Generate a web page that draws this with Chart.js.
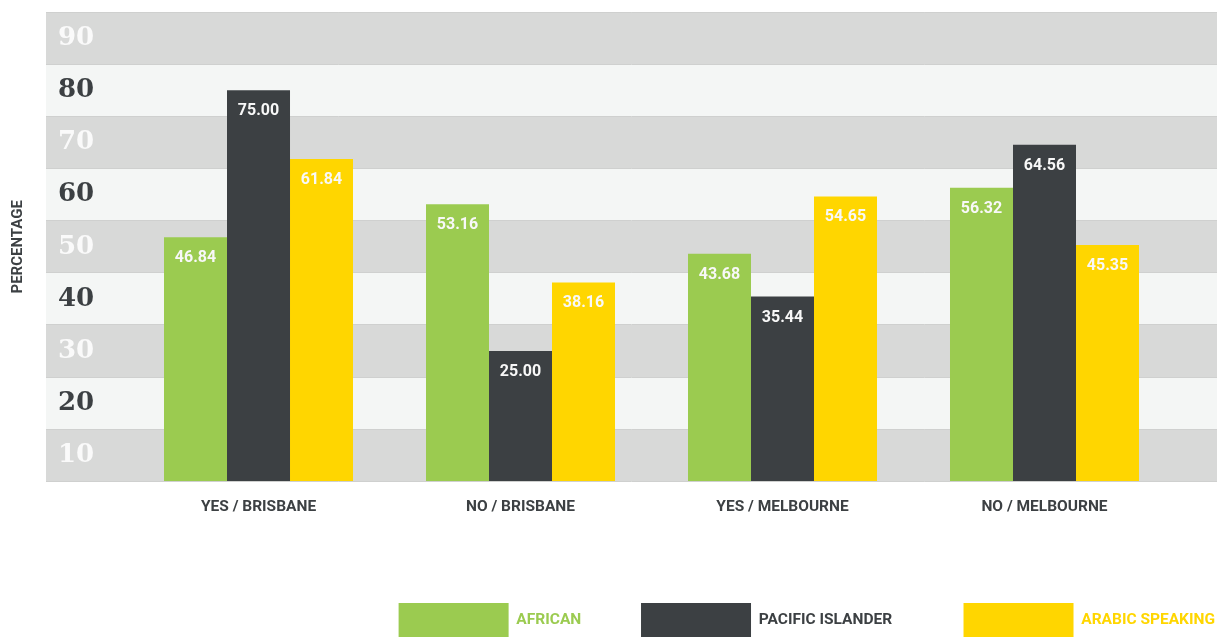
<!DOCTYPE html>
<html>
<head>
<meta charset="utf-8">
<script src="https://cdn.jsdelivr.net/npm/chart.js@4.4.1/dist/chart.umd.min.js"></script>
<style>
  html, body { margin: 0; padding: 0; background: #ffffff; }
  #wrap { width: 1227px; height: 637px; }
</style>
</head>
<body>
<div id="wrap"><canvas id="surveyChart"></canvas></div>
<script>
// chart data
const categories = ['YES / BRISBANE', 'NO / BRISBANE', 'YES / MELBOURNE', 'NO / MELBOURNE'];
const seriesNames = ['AFRICAN', 'PACIFIC ISLANDER', 'ARABIC SPEAKING'];
const africanValues = [46.84, 53.16, 43.68, 56.32];
const pacificValues = [75.00, 25.00, 35.44, 64.56];
const arabicValues = [61.84, 38.16, 54.65, 45.35];
const yTickValues = [0, 10, 20, 30, 40, 50, 60, 70, 80, 90];

const GREEN = '#9bcb50';
const DARK = '#3c4043';
const YELLOW = '#ffd600';
const SANS = 'Roboto, "Liberation Sans", sans-serif';

// spaces used to widen the legend gaps
const legendGaps = ['               ', '                  ', ''];

function toPoints(values) {
    return values.map((v, i) => ({ x: i, y: v }));
}

// alternating grey bands behind the plot
const bandPlugin = {
    id: 'bands',
    beforeDraw(chart) {
        const { ctx, chartArea } = chart;
        const y = chart.scales.y;
        ctx.save();
        for (let i = 0; i < yTickValues.length - 1; i++) {
            const top = y.getPixelForValue(yTickValues[i + 1]);
            const bottom = y.getPixelForValue(yTickValues[i]);
            ctx.fillStyle = i % 2 === 0 ? '#d8d9d8' : '#f4f6f5';
            ctx.fillRect(chartArea.left, top, chartArea.right - chartArea.left, bottom - top);
        }
        ctx.restore();
    }
};

// value labels inside the top of each bar
const valueLabelPlugin = {
    id: 'valueLabels',
    afterDatasetsDraw(chart) {
        const ctx = chart.ctx;
        ctx.save();
        ctx.font = 'bold 16px ' + SANS;
        ctx.fillStyle = '#f8f8f8';
        ctx.textAlign = 'center';
        ctx.textBaseline = 'middle';
        chart.data.datasets.forEach((ds, di) => {
            chart.getDatasetMeta(di).data.forEach((bar, i) => {
                ctx.fillText(ds.data[i].y.toFixed(2), bar.x, bar.y + 21);
            });
        });
        ctx.restore();
    }
};

const ctx = document.getElementById('surveyChart').getContext('2d');
new Chart(ctx, {
    type: 'bar',
    data: {
        datasets: [{
            label: seriesNames[0],
            data: toPoints(africanValues),
            backgroundColor: GREEN
        }, {
            label: seriesNames[1],
            data: toPoints(pacificValues),
            backgroundColor: DARK
        }, {
            label: seriesNames[2],
            data: toPoints(arabicValues),
            backgroundColor: YELLOW
        }]
    },
    options: {
        responsive: true,
        maintainAspectRatio: false,
        animation: false,
        barPercentage: 1,
        categoryPercentage: 0.7214,
        layout: {
            padding: { top: 4, left: 0, right: 10, bottom: -10 }
        },
        plugins: {
            tooltip: { enabled: false },
            legend: {
                display: true,
                position: 'bottom',
                align: 'end',
                labels: {
                    boxWidth: 110,
                    boxHeight: 34,
                    padding: 2,
                    font: { family: SANS, size: 15.5, weight: 'bold' },
                    generateLabels: function (chart) {
                        const colors = [GREEN, DARK, YELLOW];
                        return chart.data.datasets.map((ds, i) => ({
                            text: ds.label + legendGaps[i],
                            fillStyle: ds.backgroundColor,
                            strokeStyle: ds.backgroundColor,
                            lineWidth: 0,
                            fontColor: colors[i],
                            hidden: false,
                            datasetIndex: i
                        }));
                    }
                }
            }
        },
        scales: {
            x: {
                type: 'linear',
                offset: false,
                min: -0.8111,
                max: 3.6584,
                grid: { display: false, offset: false },
                border: { display: false },
                afterBuildTicks: function (scale) {
                    scale.ticks = categories.map((c, i) => ({ value: i }));
                },
                ticks: {
                    padding: 8,
                    color: DARK,
                    font: { family: SANS, size: 15.5, weight: 'bold' },
                    callback: function (value) {
                        return categories[value] || '';
                    }
                },
                title: {
                    display: true,
                    text: '',
                    font: { size: 10, lineHeight: 1 },
                    padding: { top: 0, bottom: 67 }
                }
            },
            y: {
                min: 0,
                max: 90,
                grid: { color: '#cfd0cf', lineWidth: 1, drawTicks: false },
                border: { display: false },
                afterBuildTicks: function (scale) {
                    scale.ticks = yTickValues.map(v => ({ value: v }));
                },
                ticks: {
                    mirror: true,
                    padding: 12,
                    labelOffset: -26,
                    font: { family: '"DejaVu Serif", "Liberation Serif", serif', size: 26, weight: 'bold', lineHeight: 0.01 },
                    color: function (c) {
                        return (c.tick.value / 10) % 2 === 0 ? '#fafafa' : DARK;
                    },
                    callback: function (value) {
                        return value < 90 ? String(value + 10) : '';
                    }
                },
                title: {
                    display: true,
                    text: 'PERCENTAGE',
                    color: DARK,
                    font: { family: SANS, size: 15, weight: 'bold', lineHeight: 0.5334 },
                    padding: { top: 14, bottom: 0 }
                }
            }
        }
    },
    plugins: [bandPlugin, valueLabelPlugin]
});
</script>
</body>
</html>
